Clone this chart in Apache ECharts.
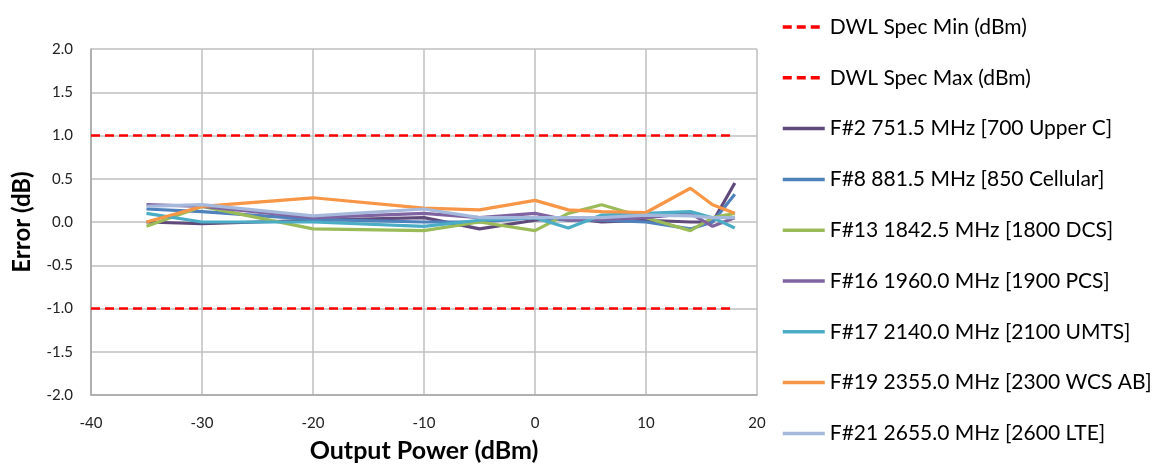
<!DOCTYPE html>
<html>
<head>
<meta charset="utf-8">
<script src="https://cdn.jsdelivr.net/npm/echarts@6/dist/echarts.min.js"></script>
<style>
  html, body { margin: 0; padding: 0; background: #ffffff; }
  #chart { width: 1156px; height: 468px; }
</style>
</head>
<body>
<div id="chart"></div>
<script>
// Output power steps (dBm)
const powerLevels = [-35, -30, -20, -10, -5, 0, 3, 6, 10, 14, 16, 18];

// Spec limits (dB)
const specMinName = 'DWL Spec Min (dBm)';
const specMaxName = 'DWL Spec Max (dBm)';
const specLimitX = [-40, 18];
const specMin = -1.0;
const specMax = 1.0;

// Measured error per band (dB)
const bandNames = [
  'F#2 751.5 MHz [700 Upper C]',
  'F#8 881.5 MHz [850 Cellular]',
  'F#13 1842.5 MHz [1800 DCS]',
  'F#16 1960.0 MHz [1900 PCS]',
  'F#17 2140.0 MHz [2100 UMTS]',
  'F#19 2355.0 MHz [2300 WCS AB]',
  'F#21 2655.0 MHz [2600 LTE]'
];
const errF2  = [0.00, -0.02, 0.02, 0.05, -0.08, 0.02, 0.05, 0.00, 0.02, 0.00, 0.00, 0.45];
const errF8  = [0.15, 0.12, 0.03, 0.00, 0.00, 0.05, 0.02, 0.02, 0.00, -0.08, 0.00, 0.32];
const errF13 = [-0.05, 0.18, -0.08, -0.10, 0.00, -0.10, 0.10, 0.20, 0.05, -0.10, 0.05, 0.10];
const errF16 = [0.20, 0.18, 0.05, 0.10, 0.05, 0.10, 0.02, 0.03, 0.05, 0.10, -0.05, 0.05];
const errF17 = [0.10, 0.00, 0.00, -0.05, 0.02, 0.05, -0.07, 0.08, 0.10, 0.12, 0.05, -0.07];
const errF19 = [0.00, 0.18, 0.28, 0.16, 0.14, 0.25, 0.14, 0.12, 0.11, 0.39, 0.20, 0.10];
const errF21 = [0.18, 0.20, 0.07, 0.15, 0.05, 0.05, 0.05, 0.05, 0.08, 0.07, 0.05, 0.05];
const bandErrors = [errF2, errF8, errF13, errF16, errF17, errF19, errF21];
const bandColors = ['#604A7B', '#4F81BD', '#9BBB59', '#8064A2', '#4BACC6', '#F79646', '#A5B9DC'];

const FONT = 'Lato, "Open Sans", sans-serif';

function pairs(xs, ys) { return xs.map((x, i) => [x, ys[i]]); }

const specSeries = [[specMinName, specMin], [specMaxName, specMax]].map(([name, v]) => ({
  name: name,
  type: 'line',
  data: specLimitX.map(x => [x, v]),
  symbol: 'none',
  lineStyle: { color: '#FF0000', width: 2.5, type: [9, 5] },
  itemStyle: { color: '#FF0000' },
  z: 1
}));

const bandSeries = bandNames.map((name, i) => ({
  name: name,
  type: 'line',
  data: pairs(powerLevels, bandErrors[i]),
  symbol: 'none',
  lineStyle: { color: bandColors[i], width: 3.2 },
  itemStyle: { color: bandColors[i] },
  z: 2 + i
}));

const chart = echarts.init(document.getElementById('chart'), null, { renderer: 'canvas' });
chart.setOption({
  animation: false,
  backgroundColor: '#ffffff',
  grid: { left: 91, right: 399, top: 49, bottom: 72, containLabel: false },
  legend: {
    orient: 'vertical',
    left: 776,
    top: 11,
    itemWidth: 42,
    itemHeight: 14,
    itemGap: 28.8,
    itemStyle: { opacity: 0 },
    lineStyle: { width: 3.5 },
    textStyle: { fontFamily: FONT, fontSize: 21, lineHeight: 22, color: '#000000' },
    data: [specMinName, specMaxName].concat(bandNames)
  },
  xAxis: {
    type: 'value',
    min: -40, max: 20, interval: 10,
    name: 'Output Power (dBm)',
    nameLocation: 'middle',
    nameGap: 43,
    nameTextStyle: { fontFamily: FONT, fontSize: 25, fontWeight: 'bold', color: '#000000' },
    axisLine: { show: true, onZero: false, lineStyle: { color: '#A6A6A6', width: 1.5 } },
    axisTick: { show: false },
    splitLine: { show: true, lineStyle: { color: '#BFBFBF', width: 1.5 } },
    axisLabel: { fontFamily: FONT, fontSize: 15, color: '#222222', margin: 21 }
  },
  yAxis: {
    type: 'value',
    min: -2, max: 2, interval: 0.5,
    name: 'Error (dB)',
    nameLocation: 'middle',
    nameGap: 57,
    nameTextStyle: { fontFamily: FONT, fontSize: 24, fontWeight: 'bold', color: '#000000' },
    axisLine: { show: true, onZero: false, lineStyle: { color: '#A6A6A6', width: 1.5 } },
    axisTick: { show: false },
    splitLine: { show: true, lineStyle: { color: '#BFBFBF', width: 1.5 } },
    axisLabel: { fontFamily: FONT, fontSize: 15, color: '#222222', margin: 18, formatter: v => v.toFixed(1) }
  },
  series: specSeries.concat(bandSeries)
});
</script>
</body>
</html>
